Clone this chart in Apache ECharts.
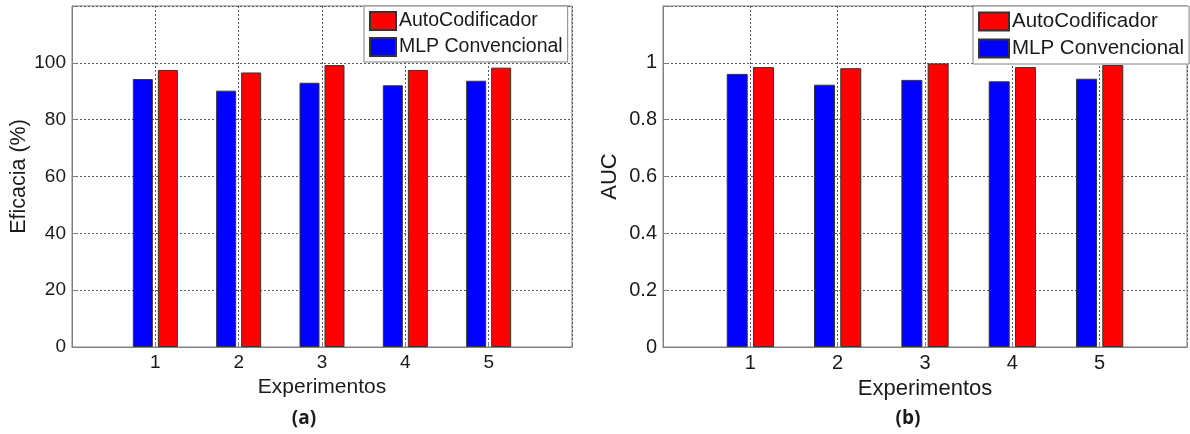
<!DOCTYPE html>
<html>
<head>
<meta charset="utf-8">
<script src="https://cdn.jsdelivr.net/npm/echarts@6/dist/echarts.min.js"></script>
<style>
html,body{margin:0;padding:0;background:#fff;}
#c{width:1190px;height:434px;}
</style>
</head>
<body>
<div id="c"></div>
<script>
const experiments = [1, 2, 3, 4, 5];
const seriesNames = ['AutoCodificador', 'MLP Convencional'];
const eficaciaAuto = [97.5, 96.6, 99.2, 97.5, 98.3];
const eficaciaMLP = [94.3, 90.2, 93.0, 92.1, 93.7];
const aucAuto = [0.985, 0.981, 0.998, 0.985, 0.992];
const aucMLP = [0.961, 0.923, 0.940, 0.935, 0.944];
const xRange = [0, 6];
const yRangeA = [0, 120, 20];
const yRangeB = [0, 1.2, 0.2];

const FONT = "'Liberation Sans', Arial, sans-serif";
const gridLine = { show: true, lineStyle: { color: '#5a5a5a', type: [2, 2], width: 1 } };
const axisLineStyle = { show: true, lineStyle: { color: '#808080', width: 1 } };

function pairs(vals) { return experiments.map((e, i) => [e, vals[i]]); }

function xAxis(gi, fs, nfs, nameGap) {
  return {
    type: 'value', gridIndex: gi, min: xRange[0], max: xRange[1], interval: 1,
    axisLine: axisLineStyle,
    axisTick: { show: true, inside: true, length: 5, lineStyle: { color: '#808080' } },
    axisLabel: { fontFamily: FONT, fontSize: fs, color: '#1a1a1a', margin: 6,
      formatter: v => experiments.indexOf(v) >= 0 ? String(v) : '' },
    splitLine: gridLine,
    name: 'Experimentos', nameLocation: 'middle', nameGap: nameGap,
    nameTextStyle: { fontFamily: FONT, fontSize: nfs, color: '#1a1a1a' }
  };
}
function yAxis(gi, rng, name, fs, nfs, nameGap, fmt) {
  return {
    type: 'value', gridIndex: gi, min: rng[0], max: rng[1], interval: rng[2],
    axisLine: axisLineStyle,
    axisTick: { show: true, inside: true, length: 5, lineStyle: { color: '#808080' } },
    axisLabel: { fontFamily: FONT, fontSize: fs, color: '#1a1a1a', margin: 6, formatter: fmt },
    splitLine: gridLine,
    name: name, nameLocation: 'middle', nameGap: nameGap,
    nameTextStyle: { fontFamily: FONT, fontSize: nfs, color: '#1a1a1a' }
  };
}
function bar(name, gi, vals, color, bw) {
  return {
    type: 'bar', name: name, xAxisIndex: gi, yAxisIndex: gi,
    data: pairs(vals), barWidth: bw, barGap: '25%',
    itemStyle: { color: color, borderColor: '#333', borderWidth: 1 },
    emphasis: { disabled: true }
  };
}
function legend(left, iw, fs) {
  return {
    left: left, top: 6, orient: 'vertical', selectedMode: false,
    data: seriesNames, icon: 'rect', itemWidth: iw, itemHeight: 18, itemGap: 6,
    padding: [5, 5, 5, 5],
    backgroundColor: '#fff', borderColor: '#808080', borderWidth: 1,
    textStyle: { fontFamily: FONT, fontSize: fs, color: '#1a1a1a', padding: [0, 0, 0, -2] }
  };
}

const chart = echarts.init(document.getElementById('c'), null, { renderer: 'canvas' });
chart.setOption({
  animation: false,
  backgroundColor: '#fff',
  grid: [
    { left: 72, top: 6, width: 500, height: 341, show: true, borderColor: '#808080', borderWidth: 1, backgroundColor: '#fff' },
    { left: 663, top: 6, width: 530, height: 341, show: true, borderColor: '#808080', borderWidth: 1, backgroundColor: '#fff' }
  ],
  legend: [legend(364, 26, 19.5), legend(973, 30, 20.5)],
  xAxis: [xAxis(0, 19, 21, 27), xAxis(1, 20, 22, 27)],
  yAxis: [
    yAxis(0, yRangeA, 'Eficacia (%)', 19, 21.5, 42, v => v > 100 ? '' : String(v)),
    yAxis(1, yRangeB, 'AUC', 20, 22, 42, v => v > 1.05 ? '' : String(+v.toFixed(1)))
  ],
  series: [
    bar(seriesNames[1], 0, eficaciaMLP, '#0000ff', 20),
    bar(seriesNames[0], 0, eficaciaAuto, '#ff0000', 20),
    bar(seriesNames[1], 1, aucMLP, '#0000ff', 21),
    bar(seriesNames[0], 1, aucAuto, '#ff0000', 21)
  ],
  graphic: [
    { type: 'text', x: 304, y: 419, style: { text: '(a)', fontFamily: "'Open Sans', Arial, sans-serif", fontWeight: 'bold', fontSize: 19, fill: '#1a1a1a', align: 'center', verticalAlign: 'middle' } },
    { type: 'text', x: 908, y: 419, style: { text: '(b)', fontFamily: "'Open Sans', Arial, sans-serif", fontWeight: 'bold', fontSize: 19, fill: '#1a1a1a', align: 'center', verticalAlign: 'middle' } }
  ]
});
</script>
</body>
</html>
